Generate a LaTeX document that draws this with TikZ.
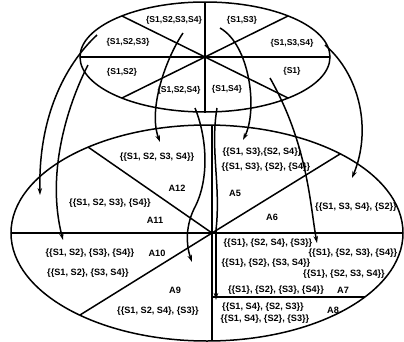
\documentclass[tikz,border=0pt]{standalone}
\usepackage{fontspec}
\setmainfont{Liberation Sans}
\usetikzlibrary{arrows.meta}
\begin{document}
\begin{tikzpicture}[x=1bp,y=-1bp, line width=1.5bp,
  lbl/.style={font=\bfseries\fontsize{9.2}{10}\selectfont, inner sep=0pt},
  tlbl/.style={font=\bfseries\fontsize{8.6}{10}\selectfont, inner sep=0pt},
  arr/.style={-{Stealth[length=7bp,width=4.5bp]}, line width=1.5bp}]
\useasboundingbox (0,0) rectangle (404,342);

% ---- top ellipse ----
\coordinate (TC) at (205,57);
\draw (TC) ellipse [x radius=125bp, y radius=55bp];
\coordinate (T1) at (205,2);   \coordinate (T2) at (205,112);
\coordinate (T3) at (80,57);   \coordinate (T4) at (330,57);
\coordinate (T5) at (122,16);  \coordinate (T6) at (288,98);
\coordinate (T7) at (288,16);  \coordinate (T8) at (122,98);
\draw (T1) -- (T2);
\draw (T3) -- (T4);
\draw (T5) -- (T6);
\draw (T7) -- (T8);

\node[tlbl] (t1) at (174,20) {\{S1,S2,S3,S4\}};
\node[tlbl] (t2) at (242,20) {\{S1,S3\}};
\node[tlbl] (t3) at (128,42) {\{S1,S2,S3\}};
\node[tlbl] (t4) at (122,72) {\{S1,S2\}};
\node[tlbl] (t5) at (292,43) {\{S1,S3,S4\}};
\node[tlbl] (t6) at (292,71) {\{S1\}};
\node[tlbl] (t7) at (179,90) {\{S1,S2,S4\}};
\node[tlbl] (t8) at (227,89) {\{S1,S4\}};

% ---- bottom ellipse ----
\coordinate (BC) at (207,233);
\coordinate (O) at (212,233);
\draw (BC) ellipse [x radius=196bp, y radius=108bp];
\coordinate (B1) at (212,125);  \coordinate (B2) at (212,341);
\coordinate (B3) at (11,233);   \coordinate (B4) at (403,233);
\coordinate (B5) at (88,147);   \coordinate (B6) at (340,154);
\coordinate (B7) at (80,315);
\coordinate (B8) at (212,297);  \coordinate (B9) at (365,297);
\draw (B1) -- (B2);
\draw (B3) -- (B4);
\draw (B5) -- (O);
\draw (B6) -- (O);
\draw (B7) -- (O);
\draw (B8) -- (B9);

\node[lbl] (p12) at (157,157) {\{\{S1, S2, S3, S4\}\}};
\node[lbl] (a12) at (177,188) {A12};
\node[lbl] (p11) at (110,203) {\{\{S1, S2, S3\}, \{S4\}\}};
\node[lbl] (a11) at (155,220) {A11};
\node[lbl] (p10a) at (90,253) {\{\{S1, S2\}, \{S3\}, \{S4\}\}};
\node[lbl] (a10) at (157,253) {A10};
\node[lbl] (p10b) at (88,273) {\{\{S1, S2\}, \{S3, S4\}\}};
\node[lbl] (a9) at (175,290) {A9};
\node[lbl] (p9) at (158,311) {\{\{S1, S2, S4\}, \{S3\}\}};
\node[lbl] (p5a) at (262,152) {\{\{S1, S3\},\{S2, S4\}\}};
\node[lbl] (p5b) at (266,167) {\{\{S1, S3\}, \{S2\}, \{S4\}\}};
\node[lbl] (a5) at (235,193) {A5};
\node[lbl] (a6) at (272,217) {A6};
\node[lbl] (p6) at (356,207) {\{\{S1, S3, S4\}, \{S2\}\}};
\node[lbl] (p7a) at (268,243) {\{\{S1\}, \{S2, S4\}, \{S3\}\}};
\node[lbl] (p7b) at (353,253) {\{\{S1\}, \{S2, S3\}, \{S4\}\}};
\node[lbl] (p7c) at (266,263) {\{\{S1\}, \{S2\}, \{S3, S4\}\}};
\node[lbl] (p7d) at (344,274) {\{\{S1\}, \{S2, S3, S4\}\}};
\node[lbl] (p7e) at (276,290) {\{\{S1\}, \{S2\}, \{S3\}, \{S4\}\}};
\node[lbl] (a7) at (343,290) {A7};
\node[lbl] (p8a) at (263,307) {\{\{S1, S4\}, \{S2, S3\}\}};
\node[lbl] (p8b) at (265,319) {\{\{S1, S4\}, \{S2\}, \{S3\}\}};
\node[lbl] (a8) at (333,310) {A8};

% ---- connectors ----
\coordinate (s1) at (97,35);   \coordinate (e1) at (40,195);
\coordinate (s2) at (88,65);   \coordinate (e2) at (63,240);
\coordinate (s3) at (183,33);  \coordinate (e3) at (160,142);
\coordinate (s4) at (220,28);  \coordinate (e4) at (243,140);
\coordinate (s5) at (325,45);  \coordinate (e5) at (352,178);
\coordinate (s6) at (270,78);  \coordinate (e6) at (317,243);
\coordinate (s7) at (195,108); \coordinate (m7) at (196,205); \coordinate (e7) at (192,262);
\coordinate (s8) at (217,108); \coordinate (m8) at (216,230); \coordinate (e8) at (216,300);

\draw[arr] (s1) .. controls (70,60) and (38,110) .. (e1);
\draw[arr] (s2) .. controls (70,100) and (45,170) .. (e2);
\draw[arr] (s3) .. controls (165,60) and (148,110) .. (e3);
\draw[arr] (s4) .. controls (250,45) and (258,110) .. (e4);
\draw[arr] (s5) .. controls (360,75) and (372,130) .. (e5);
\draw[arr] (s6) .. controls (308,145) and (310,205) .. (e6);
\draw (s7) .. controls (206,135) and (210,175) .. (m7);
\draw[arr] (m7) .. controls (185,225) and (186,245) .. (e7);
\draw (s8) .. controls (210,150) and (221,185) .. (m8);
\draw[arr] (m8) -- (e8);
\end{tikzpicture}
\end{document}
